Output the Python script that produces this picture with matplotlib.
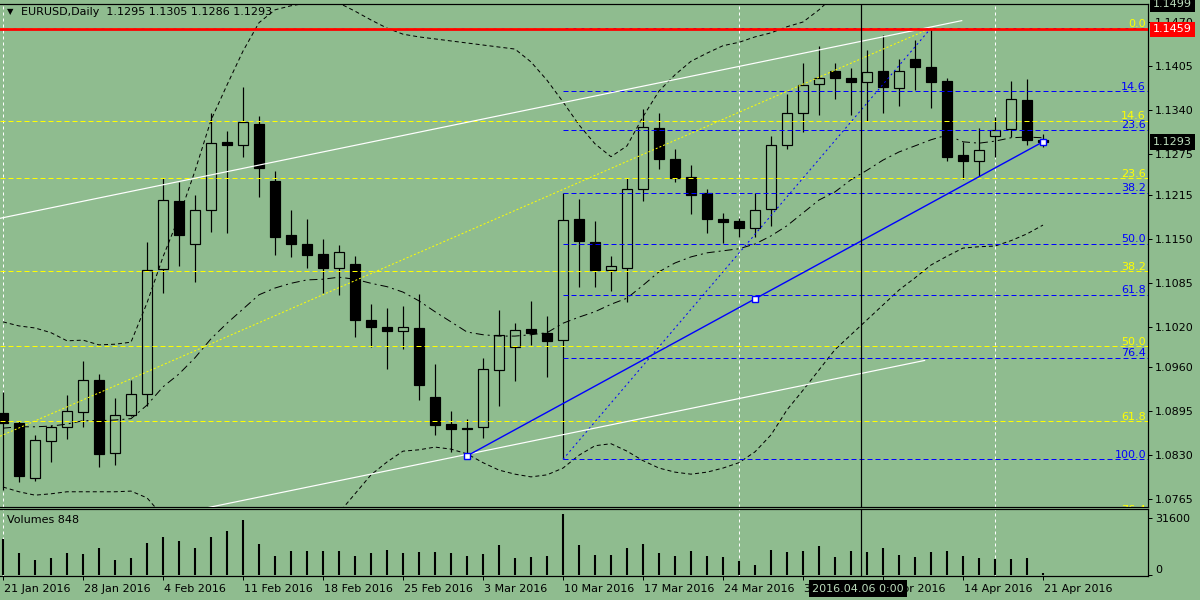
import numpy as np
import pandas as pd
import matplotlib
matplotlib.use("Agg")
import matplotlib.pyplot as plt
from matplotlib.patches import Rectangle
import matplotlib.transforms as mtransforms

plt.rcParams['font.family'] = ['DejaVu Sans']
plt.rcParams['font.size'] = 8

# --- data (EURUSD daily, 21 Jan - 21 Apr 2016) ---
dates = pd.bdate_range('2016-01-21', '2016-04-21')

opens = [1.0892, 1.0878, 1.0796, 1.0851, 1.0872, 1.0894, 1.0941, 1.0834, 1.0889, 1.0920,
         1.1105, 1.1205, 1.1142, 1.1193, 1.1293, 1.1289, 1.1320, 1.1235, 1.1155, 1.1142,
         1.1127, 1.1106, 1.1113, 1.1030, 1.1019, 1.1013, 1.1018, 1.0916, 1.0876, 1.0870,
         1.0871, 1.0956, 1.0990, 1.1017, 1.1011, 1.1000, 1.1179, 1.1145, 1.1103, 1.1107,
         1.1223, 1.1314, 1.1267, 1.1241, 1.1217, 1.1179, 1.1176, 1.1165, 1.1194, 1.1288,
         1.1335, 1.1378, 1.1398, 1.1387, 1.1381, 1.1398, 1.1373, 1.1416, 1.1403, 1.1383,
         1.1274, 1.1265, 1.1301, 1.1312, 1.1355, 1.1295]
highs = [1.0923, 1.0880, 1.0860, 1.0875, 1.0919, 1.0969, 1.0950, 1.0914, 1.0941, 1.1145,
         1.1239, 1.1234, 1.1214, 1.1335, 1.1309, 1.1374, 1.1331, 1.1250, 1.1192, 1.1179,
         1.1149, 1.1140, 1.1124, 1.1053, 1.1047, 1.1050, 1.1068, 1.0965, 1.0895, 1.0883,
         1.0973, 1.1045, 1.1026, 1.1058, 1.1036, 1.1218, 1.1209, 1.1176, 1.1124, 1.1240,
         1.1341, 1.1335, 1.1283, 1.1259, 1.1223, 1.1188, 1.1181, 1.1218, 1.1302, 1.1364,
         1.1409, 1.1435, 1.1409, 1.1402, 1.1429, 1.1451, 1.1416, 1.1444, 1.1461, 1.1388,
         1.1292, 1.1314, 1.1329, 1.1383, 1.1386, 1.1305]
lows = [1.0779, 1.0791, 1.0792, 1.0820, 1.0854, 1.0872, 1.0812, 1.0816, 1.0888, 1.0902,
        1.1069, 1.1109, 1.1086, 1.1160, 1.1159, 1.1271, 1.1212, 1.1126, 1.1123, 1.1106,
        1.1070, 1.1066, 1.1004, 1.0990, 1.0958, 1.0987, 1.0912, 1.0860, 1.0835, 1.0829,
        1.0856, 1.0903, 1.0940, 1.0993, 1.0946, 1.0824, 1.1078, 1.1078, 1.1072, 1.1057,
        1.1205, 1.1253, 1.1233, 1.1187, 1.1159, 1.1143, 1.1153, 1.1152, 1.1168, 1.1282,
        1.1307, 1.1332, 1.1356, 1.1333, 1.1324, 1.1335, 1.1346, 1.1369, 1.1343, 1.1265,
        1.1238, 1.1243, 1.1271, 1.1300, 1.1288, 1.1286]
closes = [1.0878, 1.0799, 1.0853, 1.0871, 1.0895, 1.0941, 1.0832, 1.0889, 1.0920, 1.1103,
          1.1207, 1.1156, 1.1192, 1.1291, 1.1289, 1.1322, 1.1254, 1.1153, 1.1142, 1.1126,
          1.1107, 1.1130, 1.1030, 1.1020, 1.1013, 1.1019, 1.0933, 1.0874, 1.0869, 1.0868,
          1.0958, 1.1007, 1.1015, 1.1011, 1.0999, 1.1177, 1.1147, 1.1103, 1.1109, 1.1223,
          1.1315, 1.1268, 1.1239, 1.1215, 1.1179, 1.1174, 1.1165, 1.1193, 1.1289, 1.1335,
          1.1377, 1.1388, 1.1388, 1.1382, 1.1396, 1.1374, 1.1398, 1.1404, 1.1382, 1.1271,
          1.1265, 1.1281, 1.1311, 1.1356, 1.1295, 1.1293]
volumes = [19900, 12200, 8300, 9400, 12200, 11600, 15000, 8300, 9400, 17700,
           21100, 18800, 15000, 21100, 24400, 30500, 17200, 10500, 13300, 13300,
           13300, 13300, 10500, 12200, 13900, 12200, 12700, 12700, 12200, 10500,
           11600, 16600, 9400, 10000, 10500, 33800, 16600, 11100, 11100, 15000,
           17200, 12200, 10500, 13300, 10500, 10000, 7800, 5500, 13900, 12700,
           13300, 16100, 10000, 13300, 12700, 15000, 11100, 10000, 12700, 13300,
           10500, 9400, 8900, 8900, 9400, 848]

# Bollinger bands as drawn
bb_upper = [1.1027, 1.1021, 1.1018, 1.1011, 1.0999, 1.1000, 1.0993, 1.0994, 1.0997, 1.1055,
            1.1123, 1.1182, 1.1250, 1.1325, 1.1377, 1.1427, 1.1469, 1.1488, 1.1494, 1.1498,
            1.1501, 1.1498, 1.1486, 1.1473, 1.1461, 1.1452, 1.1448, 1.1445, 1.1442, 1.1439,
            1.1436, 1.1433, 1.1430, 1.1411, 1.1384, 1.1352, 1.1318, 1.1290, 1.1271, 1.1287,
            1.1330, 1.1368, 1.1392, 1.1412, 1.1424, 1.1435, 1.1440, 1.1448, 1.1454, 1.1463,
            1.1470, 1.1488, 1.1510, 1.1525, 1.1535, 1.1540, 1.1545, 1.1550, 1.1555, 1.1560,
            1.1560, 1.1555, 1.1550, 1.1545, 1.1540, 1.1535]
bb_middle = [1.0870, 1.0872, 1.0872, 1.0873, 1.0876, 1.0881, 1.0881, 1.0882, 1.0884, 1.0904,
             1.0931, 1.0950, 1.0974, 1.1002, 1.1025, 1.1046, 1.1067, 1.1077, 1.1084, 1.1089,
             1.1090, 1.1093, 1.1090, 1.1084, 1.1079, 1.1071, 1.1058, 1.1042, 1.1027, 1.1012,
             1.1008, 1.1006, 1.1006, 1.1008, 1.1011, 1.1025, 1.1034, 1.1042, 1.1053, 1.1062,
             1.1081, 1.1101, 1.1114, 1.1123, 1.1129, 1.1132, 1.1135, 1.1142, 1.1154, 1.1169,
             1.1188, 1.1207, 1.1219, 1.1237, 1.1251, 1.1266, 1.1278, 1.1287, 1.1296, 1.1303,
             1.1293, 1.1291, 1.1294, 1.1299, 1.1300, 1.1299]
bb_lower = [1.0783, 1.0776, 1.0771, 1.0773, 1.0776, 1.0776, 1.0776, 1.0776, 1.0777, 1.0767,
            1.0740, 1.0710, 1.0680, 1.0660, 1.0640, 1.0630, 1.0620, 1.0620, 1.0620, 1.0690,
            1.0715, 1.0745, 1.0773, 1.0801, 1.0820, 1.0836, 1.0838, 1.0842, 1.0839, 1.0832,
            1.0819, 1.0808, 1.0802, 1.0798, 1.0801, 1.0811, 1.0830, 1.0844, 1.0847, 1.0836,
            1.0822, 1.0811, 1.0805, 1.0802, 1.0805, 1.0811, 1.0819, 1.0835, 1.0860, 1.0897,
            1.0926, 1.0956, 1.0986, 1.1008, 1.1030, 1.1052, 1.1074, 1.1092, 1.1111, 1.1124,
            1.1136, 1.1138, 1.1139, 1.1147, 1.1157, 1.1170]

# drawn objects (bar index, price)
yellow_fib = (1.1461, 1.0521)          # 0% , 100%
blue_fib = (1.1461, 1.0824)
blue_fib_start = 35
fib_levels = [0.0, 14.6, 23.6, 38.2, 50.0, 61.8, 76.4, 100.0]
yellow_diag = [(-0.1875, 1.0858), (58, 1.1461)]
blue_diag = [(35, 1.0824), (58, 1.1461)]
white_upper = [(-0.1875, 1.1180), (59.92, 1.1472)]
white_lower = [(10.0, 1.0739), (57.6, 1.0970)]
blue_trend = [(29, 1.0829), (65, 1.1293)]
red_level = 1.1459
top_price = 1.1499
white_vlines = [0, 46, 62]
cross_date = '2016-04-06'

price_ticks = [1.1470, 1.1405, 1.1340, 1.1275, 1.1215, 1.1150, 1.1085,
               1.1020, 1.0960, 1.0895, 1.0830, 1.0765]

bg = '#8FBC8F'
light = '#bcdcbc'
px = 0.72  # one pixel in points

fig = plt.figure(figsize=(12, 6), dpi=100, facecolor=bg)
ax = fig.add_axes([0, 93/600, 1148/1200, 503/600], facecolor=bg)
axv = fig.add_axes([0, 24/600, 1148/1200, 67/600], facecolor=bg)

x = np.arange(len(dates))
for a in (ax, axv):
    a.set_xlim(-0.1875, 71.5625)
    for s in ('top', 'bottom', 'right'):
        a.spines[s].set_color('k')
        a.spines[s].set_linewidth(px * 1.2)
    a.spines['left'].set_visible(False)
ax.set_ylim(1.07535, 1.14966)
axv.set_ylim(-554, 36564)

# candles
w = 0.64
for i in x:
    o, h, l, c = opens[i], highs[i], lows[i], closes[i]
    top, bot = max(o, c), min(o, c)
    ax.vlines(i, top, h, color='k', lw=px * 1.2, zorder=2)
    ax.vlines(i, l, bot, color='k', lw=px * 1.2, zorder=2)
    fc = 'k' if c < o else bg
    ax.add_patch(Rectangle((i - w/2, bot), w, max(top - bot, 1e-6),
                           fc=fc, ec='k', lw=px * 1.2, zorder=2))

# bollinger bands
ax.plot(x, bb_upper, color='k', lw=px, ls=(0, (4, 3)), zorder=3)
ax.plot(x, bb_lower, color='k', lw=px, ls=(0, (4, 3)), zorder=3)
ax.plot(x, bb_middle, color='k', lw=px, ls=(0, (8, 4, 2, 4)), zorder=3)

# fibonacci levels
xmax = ax.get_xlim()[1]
lab_tr = mtransforms.offset_copy(
    mtransforms.blended_transform_factory(ax.transAxes, ax.transData),
    fig=fig, x=-2, y=1.5, units='dots')
for lv in fib_levels:
    pb = blue_fib[0] - lv / 100 * (blue_fib[0] - blue_fib[1])
    ax.hlines(pb, blue_fib_start, xmax, color='#0000FF', lw=px, ls=(0, (5, 3)), zorder=3)
    if lv > 0:
        ax.text(1.0, pb, f'{lv:.1f}', color='#0000FF', ha='right', va='baseline',
                transform=lab_tr, clip_on=True, zorder=5)
for lv in fib_levels:
    py = yellow_fib[0] - lv / 100 * (yellow_fib[0] - yellow_fib[1])
    ax.axhline(py, color='#FFFF00', lw=px, ls=(0, (5, 3)), zorder=3)
    ax.text(1.0, py, f'{lv:.1f}', color='#FFFF00', ha='right', va='baseline',
            transform=lab_tr, clip_on=True, zorder=5)

# trend lines
ax.plot(*zip(*yellow_diag), color='#FFFF00', lw=px, ls=(0, (2, 2)), zorder=3)
ax.plot(*zip(*blue_diag), color='#0000FF', lw=px, ls=(0, (2, 3)), zorder=3)
ax.plot(*zip(*white_upper), color='white', lw=px * 1.2, zorder=4)
ax.plot(*zip(*white_lower), color='white', lw=px * 1.2, zorder=4)
ax.plot(*zip(*blue_trend), color='#0000FF', lw=px * 1.4, zorder=4)
bt = np.array(blue_trend)
handles = np.vstack([bt, bt.mean(axis=0)])
ax.plot(handles[:, 0], handles[:, 1], ls='none', marker='s', ms=4.5,
        mfc='white', mec='#0000FF', mew=1.0, zorder=6)
ax.axhline(red_level, color='#FF0000', lw=2.0, zorder=4)

# vertical lines
x_cross = list(dates.strftime('%Y-%m-%d')).index(cross_date) - 0.375
for a in (ax, axv):
    for v in white_vlines:
        a.axvline(v, color='white', lw=px, ls=(0, (3, 3)), zorder=1.5)
    a.axvline(x_cross, color='k', lw=px * 1.2, zorder=6)

# volumes
axv.vlines(x, 0, volumes, color='k', lw=1.5, zorder=2)

# axes / ticks
ax.set_xticks([])
ax.yaxis.tick_right()
ax.set_yticks(price_ticks)
ax.set_yticklabels([f'{p:.4f}' for p in price_ticks])
ax.tick_params(axis='y', direction='out', length=3, width=px, pad=2,
               labelsize=8, colors='k')

axv.yaxis.tick_right()
axv.set_yticks([0, 31600])
axv.set_yticklabels(['0', '31600'])
axv.tick_params(axis='y', direction='out', length=3, width=px, pad=2, labelsize=8)
axv.get_yticklabels()[0].set_va('bottom')

thursdays = [i for i, d in enumerate(dates) if d.weekday() == 3]
axv.set_xticks(thursdays)
axv.set_xticklabels([])
axv.tick_params(axis='x', direction='out', length=3, width=px)
btr = mtransforms.blended_transform_factory(axv.transData, axv.transAxes)
for i in thursdays:
    d = dates[i]
    axv.text(i + 0.08, -0.19, f'{d.day} {d:%b %Y}', transform=btr,
             ha='left', va='center', clip_on=False, zorder=3)
axv.text(x_cross - 0.2, -0.19, pd.Timestamp(cross_date).strftime('%Y.%m.%d 0:00'),
         transform=btr, ha='center', va='center', color=light, clip_on=False,
         zorder=10, bbox=dict(boxstyle='square,pad=0.3', fc='k', ec='none'))

# price boxes on the right scale
rtr = mtransforms.blended_transform_factory(ax.transAxes, ax.transData)
box_specs = [(ax.get_ylim()[1], f'{top_price:.4f}', 'k', light),
             (red_level, f'{red_level:.4f}', '#FF0000', 'white'),
             (closes[-1], f'{closes[-1]:.4f}', 'k', light)]
for yv, txt, fc, tc in box_specs:
    ax.text(1.0045, yv, txt, transform=rtr, ha='left', va='center', color=tc,
            clip_on=False, zorder=10,
            bbox=dict(boxstyle='square,pad=0.25', fc=fc, ec='none'))

# headers
fig.text(7/1200, 1 - 12/600, '\u25bc', fontsize=6, va='center', ha='left')
fig.text(21/1200, 1 - 12/600,
         f'EURUSD,Daily  {opens[-1]:.4f} {highs[-1]:.4f} {lows[-1]:.4f} {closes[-1]:.4f}',
         va='center', ha='left')
axv.text(7/1148, 1 - 11/67, f'Volumes {volumes[-1]}', transform=axv.transAxes,
         va='center', ha='left')

fig.savefig('out.png', dpi=100, facecolor=bg)
